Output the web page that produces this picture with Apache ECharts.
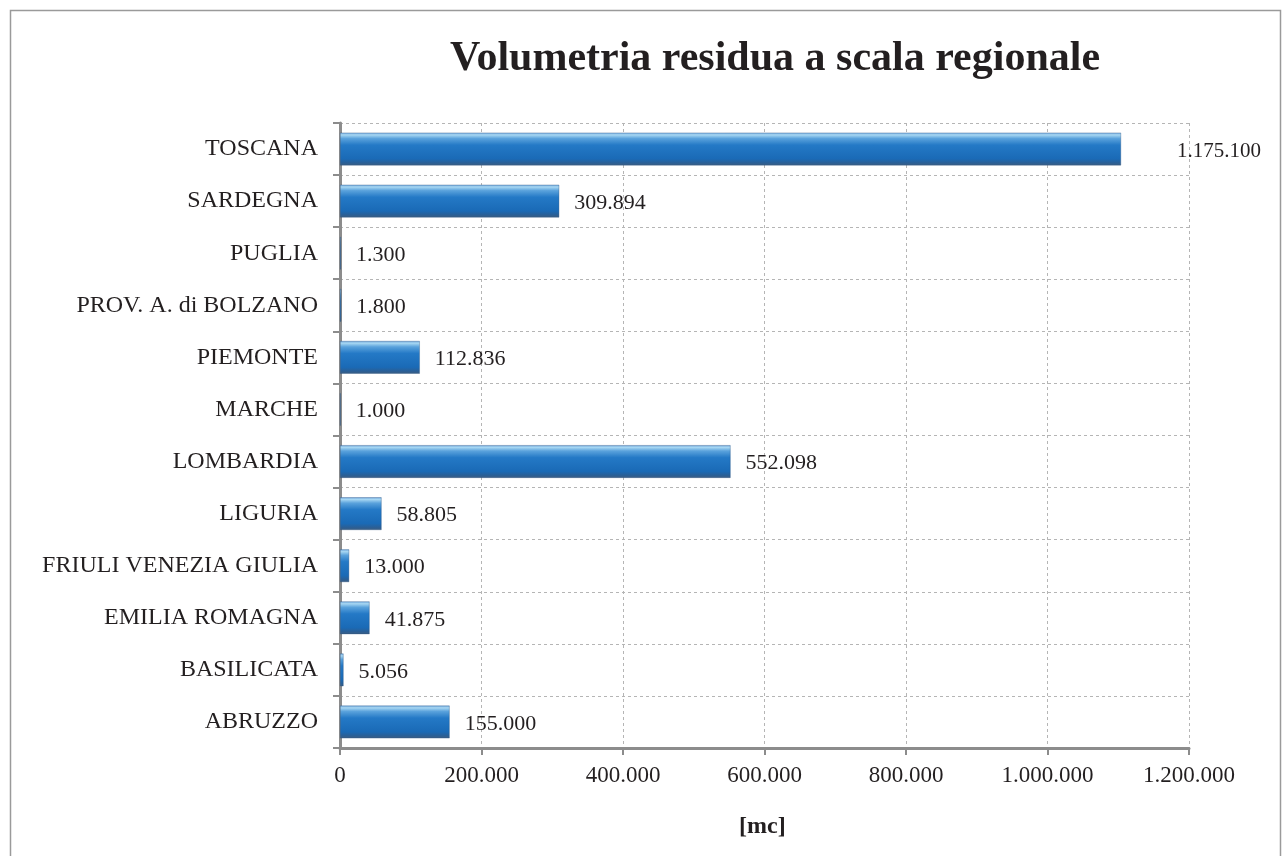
<!DOCTYPE html>
<html>
<head>
<meta charset="utf-8">
<script src="https://cdn.jsdelivr.net/npm/echarts@6/dist/echarts.min.js"></script>
<style>
html,body{margin:0;padding:0;background:#fff;}
#chart{width:1284px;height:856px;}
</style>
</head>
<body>
<div id="chart"></div>
<script>
// Categories (bottom to top, as ECharts draws a category y-axis)
const regions = ['ABRUZZO','BASILICATA','EMILIA ROMAGNA','FRIULI VENEZIA GIULIA','LIGURIA','LOMBARDIA','MARCHE','PIEMONTE','PROV. A. di BOLZANO','PUGLIA','SARDEGNA','TOSCANA'];
// Bar lengths
const volumes = [155000, 5056, 41875, 13000, 58805, 552098, 1000, 112836, 1800, 1300, 309894, 1104000];
// Data labels as printed in the picture
const printedLabels = ['155.000','5.056','41.875','13.000','58.805','552.098','1.000','112.836','1.800','1.300','309.894','1.175.100'];
// X-axis ticks
const xTicks = [0, 200000, 400000, 600000, 800000, 1000000, 1200000];

function fmt(v){ return String(v).replace(/\B(?=(\d{3})+(?!\d))/g,'.'); }

const barGradient = new echarts.graphic.LinearGradient(0,0,0,1,[
  {offset:0, color:'#6fa6dc'},
  {offset:0.07, color:'#a6d6f2'},
  {offset:0.18, color:'#5aa2dc'},
  {offset:0.38, color:'#2479c6'},
  {offset:0.8, color:'#1a6ab6'},
  {offset:0.92, color:'#2a5f96'},
  {offset:1, color:'#3e5f82'}
]);

const chart = echarts.init(document.getElementById('chart'), null, {renderer:'canvas'});
const option = {
  animation:false,
  backgroundColor:'#fff',
  title:{
    text:'Volumetria residua a scala regionale',
    left:770, top:33, textAlign:'center',
    textStyle:{fontFamily:'Liberation Serif', fontWeight:'bold', fontSize:42, color:'#231f20'}
  },
  graphic:[{
    type:'rect', shape:{x:10.5,y:10.5,width:1270,height:860},
    style:{fill:null, stroke:'#9a9a9a', lineWidth:1.5}, silent:true
  },{
    type:'text', left:739, top:815,
    style:{text:'[mc]', font:'bold 24px "Liberation Serif"', fill:'#231f20'}
  }],
  grid:{left:340, right:95, top:123, bottom:108, containLabel:false},
  xAxis:{
    type:'value', min:xTicks[0], max:xTicks[xTicks.length-1], interval:xTicks[1]-xTicks[0],
    axisLine:{show:true, lineStyle:{color:'#8c8c8c', width:3}},
    axisTick:{show:true, length:7, lineStyle:{color:'#8c8c8c', width:2}},
    axisLabel:{margin:16, fontFamily:'Liberation Serif', fontSize:23, color:'#231f20', formatter:fmt},
    splitLine:{show:true, lineStyle:{type:[3,3], color:'#b5b5b5', width:1}}
  },
  yAxis:{
    type:'category', data:regions,
    axisLine:{show:true, lineStyle:{color:'#8c8c8c', width:3}},
    axisTick:{show:true, length:7, interval:0, lineStyle:{color:'#8c8c8c', width:2}},
    axisLabel:{margin:22, interval:0, fontFamily:'Liberation Serif', fontSize:24, color:'#231f20'},
    splitLine:{show:true, interval:0, lineStyle:{type:[3,3], color:'#b5b5b5', width:1}}
  },
  series:[{
    type:'bar',
    barCategoryGap:'37%',
    data:volumes.map((v,i)=>({
      value:v,
      label:{distance: i===volumes.length-1 ? 56 : 15, fontSize: i===volumes.length-1 ? 21 : 22}
    })),
    itemStyle:{color:barGradient, borderColor:'rgba(40,80,130,0.6)', borderWidth:0.6},
    label:{
      show:true, position:'right', offset:[0,2],
      fontFamily:'Liberation Serif', fontSize:22, color:'#231f20',
      formatter:(p)=>printedLabels[p.dataIndex]
    }
  }]
};
chart.setOption(option);
</script>
</body>
</html>
